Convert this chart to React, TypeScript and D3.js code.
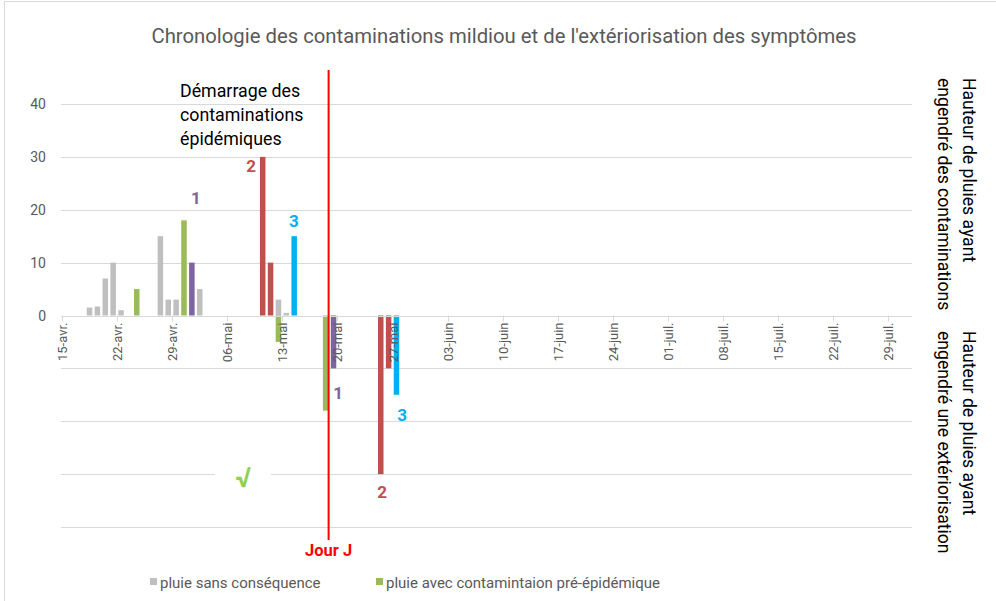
import React, { useRef, useEffect } from "react";
import * as d3 from "d3";

// rain heights (mm) by day, one list per category
const grayDates = ["2019-04-18", "2019-04-19", "2019-04-20", "2019-04-21", "2019-04-22", "2019-04-27", "2019-04-28", "2019-04-29", "2019-05-02", "2019-05-12", "2019-05-13"];
const grayValues = [1.5, 1.7, 7, 10, 1, 15, 3, 3, 5, 3, 0.5];
const greenDates = ["2019-04-24", "2019-04-30", "2019-05-12", "2019-05-18"];
const greenValues = [5, 18, -5, -18];
const purpleDates = ["2019-05-01", "2019-05-19"];
const purpleValues = [10, -10];
const redDates = ["2019-05-10", "2019-05-11", "2019-05-25", "2019-05-26"];
const redValues = [30, 10, -30, -10];
const blueDates = ["2019-05-14", "2019-05-27"];
const blueValues = [15, -15];

const yTicks = [0, 10, 20, 30, 40];
const gridLevels = [-40, -30, -20, -10, 0, 10, 20, 30, 40];
const jourJ = "2019-05-18T21:00";

// numbered labels: [text, colour, date, value]
const labels = [
  ["2", "#C0504D", "2019-05-09T01:00", 28.3],
  ["1", "#8064A2", "2019-05-02T00:00", 22.2],
  ["3", "#00B0F0", "2019-05-14T11:00", 17.9],
  ["1", "#8064A2", "2019-05-20T02:00", -14.7],
  ["3", "#00B0F0", "2019-05-28T05:00", -18.8],
  ["2", "#C0504D", "2019-05-25T16:00", -33.4],
];

const series = [
  { dates: grayDates, values: grayValues, color: "#BFBFBF" },
  { dates: greenDates, values: greenValues, color: "#9BBB59" },
  { dates: purpleDates, values: purpleValues, color: "#8064A2" },
  { dates: redDates, values: redValues, color: "#C0504D" },
  { dates: blueDates, values: blueValues, color: "#00B0F0" },
];

const fr = d3.timeFormatLocale({
  dateTime: "%A %e %B %Y à %X",
  date: "%d/%m/%Y",
  time: "%H:%M:%S",
  periods: ["AM", "PM"],
  days: ["dimanche", "lundi", "mardi", "mercredi", "jeudi", "vendredi", "samedi"],
  shortDays: ["dim.", "lun.", "mar.", "mer.", "jeu.", "ven.", "sam."],
  months: ["janvier", "février", "mars", "avril", "mai", "juin", "juillet", "août", "septembre", "octobre", "novembre", "décembre"],
  shortMonths: ["janv.", "févr.", "mars", "avr.", "mai", "juin", "juil.", "août", "sept.", "oct.", "nov.", "déc."],
});

const FONT = "Roboto, 'Liberation Sans', sans-serif";
const W = 996;
const H = 601;

const parse = (s: string) => new Date(s.length > 10 ? s : s + "T00:00");

const App = () => {
  const svgRef = useRef<SVGSVGElement>(null);

  useEffect(() => {
    const svg = d3.select(svgRef.current);
    svg.selectAll("*").remove();

    const start = parse("2019-04-15");
    const end = parse("2019-08-01");
    const x = d3.scaleTime().domain([start, end]).range([62, 912]);
    const y = d3.scaleLinear().domain([-40, 40]).range([527, 104]);
    const dayW = x(d3.timeDay.offset(start, 1)) - x(start);
    const barW = dayW * 0.7;

    svg.append("rect")
      .attr("x", 4.5).attr("y", 1.5)
      .attr("width", W).attr("height", H + 10)
      .attr("fill", "white").attr("stroke", "#D9D9D9");

    svg.append("text")
      .attr("x", 504).attr("y", 43)
      .attr("text-anchor", "middle")
      .attr("font-family", FONT).attr("font-size", 20.3)
      .attr("fill", "#595959")
      .text("Chronologie des contaminations mildiou et de l'extériorisation des symptômes");

    // grid
    svg.append("g").selectAll("line")
      .data(gridLevels)
      .enter().append("line")
      .attr("x1", 61).attr("x2", 912)
      .attr("y1", d => Math.round(y(d)) + 0.5)
      .attr("y2", d => Math.round(y(d)) + 0.5)
      .attr("stroke", "#D9D9D9");

    svg.append("g").selectAll("text")
      .data(yTicks)
      .enter().append("text")
      .attr("x", 46).attr("y", d => y(d) + 5)
      .attr("text-anchor", "end")
      .attr("font-family", FONT).attr("font-size", 14)
      .attr("fill", "#595959")
      .text(d => d);

    // bars
    series.forEach(s => {
      svg.append("g").selectAll("rect")
        .data(s.dates.map((d, i) => ({ date: parse(d), value: s.values[i] })))
        .enter().append("rect")
        .attr("x", d => x(d3.timeHour.offset(d.date, 12)) - barW / 2)
        .attr("y", d => Math.min(y(d.value), y(0)))
        .attr("width", barW)
        .attr("height", d => Math.abs(y(d.value) - y(0)))
        .attr("fill", s.color);
    });

    // x axis
    const ticks = d3.timeDay.range(start, end, 7);
    const fmt = fr.format("%d-%b");
    const gx = svg.append("g");
    gx.append("line")
      .attr("x1", 61).attr("x2", 912)
      .attr("y1", Math.round(y(0)) + 0.5).attr("y2", Math.round(y(0)) + 0.5)
      .attr("stroke", "#D9D9D9");
    gx.selectAll("line.tick")
      .data(ticks)
      .enter().append("line")
      .attr("class", "tick")
      .attr("x1", d => Math.round(x(d)) + 0.5).attr("x2", d => Math.round(x(d)) + 0.5)
      .attr("y1", y(0)).attr("y2", y(0) + 6)
      .attr("stroke", "#D9D9D9");
    gx.selectAll("text")
      .data(ticks)
      .enter().append("text")
      .attr("transform", d => `translate(${x(d) + 5},${y(0) + 7}) rotate(-90)`)
      .attr("text-anchor", "end")
      .attr("font-family", FONT).attr("font-size", 13)
      .attr("fill", "#595959")
      .text(d => fmt(d));

    // numbered labels
    svg.append("g").selectAll("text")
      .data(labels)
      .enter().append("text")
      .attr("x", d => x(parse(d[2] as string)))
      .attr("y", d => y(d[3] as number) + 6)
      .attr("text-anchor", "middle")
      .attr("font-family", FONT).attr("font-size", 17).attr("font-weight", "bold")
      .attr("fill", d => d[1] as string)
      .text(d => d[0] as string);

    // check mark
    const ck = x(parse("2019-05-08T00:00"));
    svg.append("rect")
      .attr("x", ck - 28).attr("y", y(-30) - 12)
      .attr("width", 56).attr("height", 26)
      .attr("fill", "white");
    svg.append("text")
      .attr("x", ck).attr("y", y(-30) + 13)
      .attr("text-anchor", "middle")
      .attr("font-family", FONT).attr("font-size", 28).attr("font-weight", "bold")
      .attr("fill", "#92D050")
      .text("√");

    // annotation
    const note = svg.append("text")
      .attr("font-family", FONT).attr("font-size", 17.8)
      .attr("fill", "#000");
    ["Démarrage des", "contaminations", "épidémiques"].forEach((t, i) => {
      note.append("tspan").attr("x", 180).attr("y", 97 + i * 24).text(t);
    });

    // Jour J
    const xj = x(parse(jourJ));
    svg.append("line")
      .attr("x1", xj).attr("x2", xj)
      .attr("y1", 70).attr("y2", 540)
      .attr("stroke", "#FF0000").attr("stroke-width", 2);
    svg.append("text")
      .attr("x", xj).attr("y", 556)
      .attr("text-anchor", "middle")
      .attr("font-family", FONT).attr("font-size", 16.5).attr("font-weight", "bold")
      .attr("fill", "#FF0000")
      .text("Jour J");

    // right side titles
    const side = [
      { y: 78, lines: ["Hauteur de pluies ayant", "engendré des contaminations"] },
      { y: 331, lines: ["Hauteur de pluies ayant", "engendré une extériorisation"] },
    ];
    side.forEach(s => {
      s.lines.forEach((t, i) => {
        svg.append("text")
          .attr("transform", `translate(${963 - i * 25},${s.y}) rotate(90)`)
          .attr("font-family", FONT).attr("font-size", 17.6)
          .attr("fill", "#000")
          .text(t);
      });
    });

    // legend
    const legend = [
      { label: "pluie sans conséquence", color: "#BFBFBF", x: 150 },
      { label: "pluie avec contamintaion pré-épidémique", color: "#9BBB59", x: 376 },
    ];
    legend.forEach(l => {
      svg.append("rect")
        .attr("x", l.x).attr("y", 578).attr("width", 7).attr("height", 7)
        .attr("fill", l.color);
      svg.append("text")
        .attr("x", l.x + 10).attr("y", 588)
        .attr("font-family", FONT).attr("font-size", 15)
        .attr("fill", "#595959")
        .text(l.label);
    });
  }, []);

  return (
    <svg
      ref={svgRef}
      width={W}
      height={H}
      style={{ position: "absolute", left: 0, top: 0, background: "white" }}
    />
  );
};

export default App;
